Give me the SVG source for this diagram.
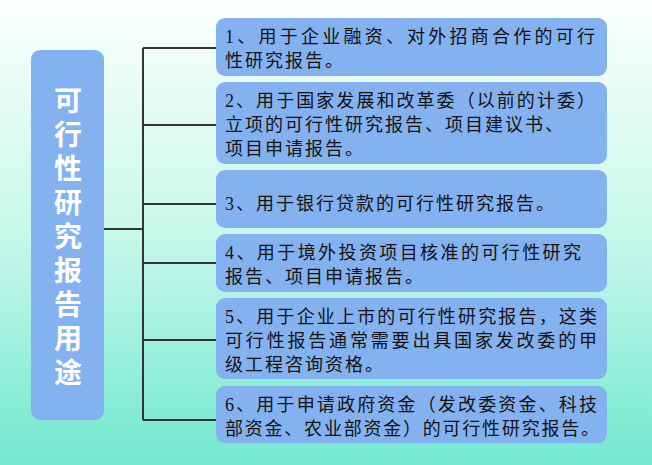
<svg xmlns="http://www.w3.org/2000/svg" width="652" height="465" viewBox="0 0 652 465">
<defs>
<linearGradient id="bg" x1="0" y1="0" x2="0" y2="1">
<stop offset="0" stop-color="#fbfffd"/><stop offset="0.5" stop-color="#c8f8ea"/><stop offset="1" stop-color="#72e8cf"/>
</linearGradient>
</defs>
<style>
.b{fill:#84b2f0}
.t{font-family:"Liberation Serif","Noto Sans CJK SC",serif;font-size:18px;fill:#111;letter-spacing:2px}
.h{font-family:"Noto Sans CJK SC",sans-serif;font-size:28px;font-weight:bold;fill:#fff;text-anchor:middle}
.c{stroke:#333;stroke-width:2;fill:none}
</style>
<rect width="652" height="465" fill="url(#bg)"/>
<g id="connectors">
<path class="c" d="M104 229H143M143 48V420M143 48H216M143 125H216M143 204H216M143 263H216M143 340H216M143 420H216"/>
</g>
<g id="title">
<rect class="b" x="31" y="50" width="73" height="370" rx="9"/>
<text class="h"><tspan x="68" y="111">可</tspan><tspan x="68" y="145">行</tspan><tspan x="68" y="179">性</tspan><tspan x="68" y="213">研</tspan><tspan x="68" y="247">究</tspan><tspan x="68" y="281">报</tspan><tspan x="68" y="315">告</tspan><tspan x="68" y="349">用</tspan><tspan x="68" y="383">途</tspan></text>
</g>
<g id="n1"><rect class="b" x="216" y="18" width="391" height="58" rx="9"/>
<text class="t"><tspan x="225" y="43" textLength="372" lengthAdjust="spacing">1、用于企业融资、对外招商合作的可行</tspan><tspan x="225" y="67">性研究报告。</tspan></text></g>
<g id="n2"><rect class="b" x="216" y="82" width="391" height="82" rx="9"/>
<text class="t"><tspan x="225" y="107" textLength="372" lengthAdjust="spacing">2、用于国家发展和改革委（以前的计委）</tspan><tspan x="225" y="131">立项的可行性研究报告、项目建议书、</tspan><tspan x="225" y="155">项目申请报告。</tspan></text></g>
<g id="n3"><rect class="b" x="216" y="170" width="391" height="58" rx="9"/>
<text class="t"><tspan x="225" y="210">3、用于银行贷款的可行性研究报告。</tspan></text></g>
<g id="n4"><rect class="b" x="216" y="234" width="391" height="58" rx="9"/>
<text class="t"><tspan x="225" y="259" textLength="358" lengthAdjust="spacing">4、用于境外投资项目核准的可行性研究</tspan><tspan x="225" y="283">报告、项目申请报告。</tspan></text></g>
<g id="n5"><rect class="b" x="216" y="298" width="391" height="81" rx="9"/>
<text class="t"><tspan x="225" y="323" textLength="374" lengthAdjust="spacing">5、用于企业上市的可行性研究报告，这类</tspan><tspan x="225" y="347" textLength="374" lengthAdjust="spacing">可行性报告通常需要出具国家发改委的甲</tspan><tspan x="225" y="371">级工程咨询资格。</tspan></text></g>
<g id="n6"><rect class="b" x="216" y="386" width="391" height="57" rx="9"/>
<text class="t"><tspan x="225" y="411" textLength="374" lengthAdjust="spacing">6、用于申请政府资金（发改委资金、科技</tspan><tspan x="225" y="435" textLength="376" lengthAdjust="spacing">部资金、农业部资金）的可行性研究报告。</tspan></text></g>
</svg>
